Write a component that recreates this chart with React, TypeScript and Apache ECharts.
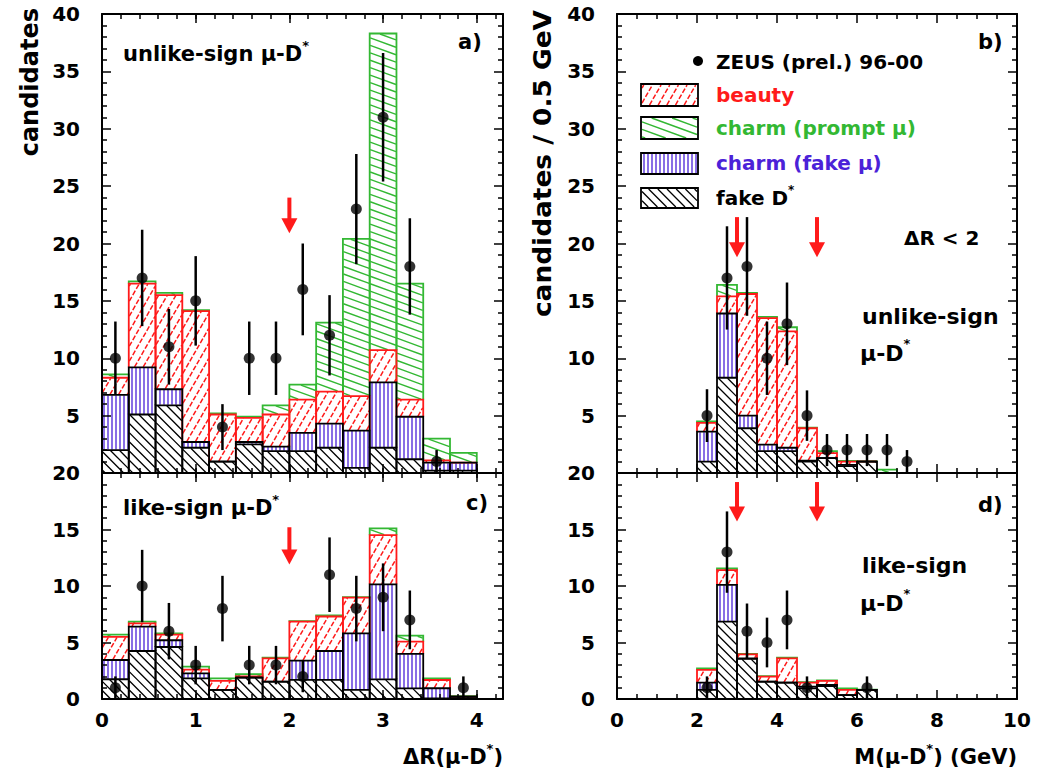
import React, { useEffect, useRef } from 'react';
import * as echarts from 'echarts';

const FONT = '"DejaVu Sans", sans-serif';
const RED = '#ff1a1a';
const GREEN = '#33b833';
const BLUE = '#4b22d8';
const BLACK = '#000000';

// ---------- binning ----------
const drEdges = [0, 0.2857, 0.5714, 0.8571, 1.1429, 1.4286, 1.7143, 2.0, 2.2857, 2.5714, 2.8571, 3.1429, 3.4286, 3.7143, 4.0];
const mEdges = [2.0, 2.5, 3.0, 3.5, 4.0, 4.5, 5.0, 5.5, 6.0, 6.5, 7.0];

// ---------- panel a: unlike-sign, ΔR ----------
const aFakeD = [2.0, 5.1, 5.9, 2.2, 1.0, 2.5, 1.9, 1.9, 2.2, 0.45, 2.2, 1.2, 0.2, 0.2];
const aFakeMu = [4.8, 4.1, 1.4, 0.5, 0.0, 0.2, 0.4, 1.6, 2.1, 3.25, 5.7, 3.7, 0.7, 0.7];
const aBeauty = [1.5, 7.3, 8.2, 11.4, 4.1, 2.1, 2.8, 2.9, 2.8, 3.0, 2.8, 1.5, 0.2, 0.0];
const aPrompt = [0.3, 0.2, 0.2, 0.1, 0.1, 0.1, 0.8, 1.3, 6.0, 13.7, 27.6, 10.1, 1.9, 0.85];
const aDataX = [0.1429, 0.4286, 0.7143, 1.0, 1.2857, 1.5714, 1.8571, 2.1429, 2.4286, 2.7143, 3.0, 3.2857, 3.5714];
const aDataY = [10, 17, 11, 15, 4, 10, 10, 16, 12, 23, 31, 18, 1];
const aDataErr = [3.2, 4.2, 3.3, 3.9, 2.0, 3.2, 3.2, 4.0, 3.5, 4.8, 5.6, 4.2, 1.0];

// ---------- panel c: like-sign, ΔR ----------
const cFakeD = [1.75, 4.25, 4.6, 1.83, 0.8, 1.9, 1.53, 1.7, 1.7, 0.8, 1.74, 0.94, 0.05, 0.2];
const cFakeMu = [1.7, 2.15, 0.6, 0.44, 0.0, 0.0, 0.0, 1.7, 2.55, 5.0, 8.41, 3.06, 0.9, 0.0];
const cBeauty = [2.05, 0.3, 0.5, 0.33, 0.8, 0.1, 2.07, 3.45, 3.05, 3.17, 4.35, 1.07, 0.73, 0.0];
const cPrompt = [0.2, 0.15, 0.1, 0.26, 0.23, 0.2, 0.05, 0.05, 0.1, 0.05, 0.6, 0.53, 0.15, 0.05];
const cDataX = [0.1429, 0.4286, 0.7143, 1.0, 1.2857, 1.5714, 1.8571, 2.1429, 2.4286, 2.7143, 3.0, 3.2857, 3.8571];
const cDataY = [1, 10, 6, 3, 8, 3, 3, 2, 11, 8, 9, 7, 1];
const cDataErr = [1.0, 3.2, 2.5, 1.7, 2.9, 1.7, 1.7, 1.4, 3.3, 2.9, 3.0, 2.6, 1.0];

// ---------- panel b: unlike-sign, M ----------
const bFakeD = [1.0, 8.3, 3.9, 1.9, 1.9, 1.0, 1.3, 0.6, 1.0, 0.0];
const bFakeMu = [2.6, 5.6, 1.1, 0.57, 0.3, 0.08, 0.0, 0.1, 0.0, 0.0];
const bBeauty = [0.76, 1.5, 10.6, 11.03, 10.15, 2.82, 0.44, 0.3, 0.0, 0.0];
const bPrompt = [0.14, 1.0, 0.1, 0.1, 0.35, 0.05, 0.16, 0.05, 0.02, 0.3];
const bDataX = [2.25, 2.75, 3.25, 3.75, 4.25, 4.75, 5.25, 5.75, 6.25, 6.75, 7.25];
const bDataY = [5, 17, 18, 10, 13, 5, 2, 2, 2, 2, 1];
const bDataErr = [2.3, 4.5, 4.3, 3.2, 3.6, 2.2, 1.4, 1.4, 1.4, 1.4, 1.0];

// ---------- panel d: like-sign, M ----------
const dFakeD = [0.8, 6.85, 3.55, 1.53, 1.45, 0.94, 1.15, 0.35, 0.8, 0.0];
const dFakeMu = [0.65, 3.25, 0.05, 0.0, 0.0, 0.16, 0.09, 0.0, 0.0, 0.0];
const dBeauty = [1.12, 1.3, 0.35, 0.45, 2.15, 0.35, 0.36, 0.45, 0.0, 0.0];
const dPrompt = [0.13, 0.15, 0.05, 0.05, 0.05, 0.05, 0.05, 0.14, 0.02, 0.0];
const dDataX = [2.25, 2.75, 3.25, 3.75, 4.25, 4.75, 6.25];
const dDataY = [1, 13, 6, 5, 7, 1, 1];
const dDataErr = [1.0, 3.6, 2.45, 2.2, 2.6, 1.0, 1.0];

// ---------- cut arrows [x, top, tip] ----------
const aArrows = [[2.0, 24.0, 20.9]];
const cArrows = [[2.0, 15.2, 11.9]];
const bArrows = [[3.0, 22.3, 18.8], [5.0, 22.3, 18.8]];
const dArrows = [[3.0, 19.2, 15.7], [5.0, 19.2, 15.7]];

// ---------- hatch shape ----------
echarts.graphic.registerShape(
  'hatch',
  (echarts.graphic as any).extendShape({
    shape: { segs: [] as number[][] },
    buildPath(ctx: any, shape: any) {
      const segs = shape.segs || [];
      for (let i = 0; i < segs.length; i++) {
        const s = segs[i];
        ctx.moveTo(s[0], s[1]);
        ctx.lineTo(s[2], s[3]);
      }
    },
  })
);

function hatchSegs(x0: number, y0: number, x1: number, y1: number, ang: number, sp: number) {
  const a = (ang * Math.PI) / 180;
  const dx = Math.cos(a), dy = Math.sin(a);
  const nx = -dy, ny = dx;
  const cs = [x0 * nx + y0 * ny, x1 * nx + y0 * ny, x0 * nx + y1 * ny, x1 * nx + y1 * ny];
  const cmin = Math.min(...cs), cmax = Math.max(...cs);
  const segs: number[][] = [];
  for (let k = Math.ceil(cmin / sp); k * sp <= cmax; k++) {
    const c = k * sp;
    const px = c * nx, py = c * ny;
    let t0 = -Infinity, t1 = Infinity;
    if (Math.abs(dx) < 1e-9) {
      if (px < x0 || px > x1) continue;
    } else {
      let ta = (x0 - px) / dx, tb = (x1 - px) / dx;
      if (ta > tb) { const tmp = ta; ta = tb; tb = tmp; }
      t0 = Math.max(t0, ta); t1 = Math.min(t1, tb);
    }
    if (Math.abs(dy) < 1e-9) {
      if (py < y0 || py > y1) continue;
    } else {
      let ta = (y0 - py) / dy, tb = (y1 - py) / dy;
      if (ta > tb) { const tmp = ta; ta = tb; tb = tmp; }
      t0 = Math.max(t0, ta); t1 = Math.min(t1, tb);
    }
    if (t1 - t0 > 0.8) segs.push([px + dx * t0, py + dy * t0, px + dx * t1, py + dy * t1]);
  }
  return segs;
}

type HatchStyle = { ang: number; sp: number; color: string; dash: number[] | null; outline: string; lw: number };
const H_PROMPT: HatchStyle = { ang: 20, sp: 7, color: GREEN, dash: null, outline: GREEN, lw: 1.4 };
const H_BEAUTY: HatchStyle = { ang: -60, sp: 7.5, color: RED, dash: [5, 2], outline: RED, lw: 1.5 };
const H_FAKEMU: HatchStyle = { ang: 90, sp: 4, color: BLUE, dash: null, outline: BLACK, lw: 1.3 };
const H_FAKED: HatchStyle = { ang: 45, sp: 6.5, color: BLACK, dash: null, outline: BLACK, lw: 1.3 };

function hatchEl(L: number, T: number, R: number, B: number, h: HatchStyle) {
  const style: any = { stroke: h.color, lineWidth: h.lw, fill: 'none' };
  if (h.dash) style.lineDash = h.dash;
  return { type: 'hatch', shape: { segs: hatchSegs(L, T, R, B, h.ang, h.sp) }, style, silent: true };
}

function layerSeries(name: string, axis: number, edges: number[], base: number[], vals: number[], h: HatchStyle) {
  const data = vals.map((v, i) => [edges[i], edges[i + 1], base[i], base[i] + v]);
  return {
    type: 'custom',
    name,
    xAxisIndex: axis,
    yAxisIndex: axis,
    z: 2,
    data,
    renderItem: (params: any, api: any) => {
      const x0 = api.value(0), x1 = api.value(1), b = api.value(2), t = api.value(3);
      const p0 = api.coord([x0, t]);
      const p1 = api.coord([x1, b]);
      const L = p0[0], T = p0[1], R = p1[0], B = p1[1];
      const children: any[] = [];
      if (B - T > 1.5) children.push(hatchEl(L + 0.5, T + 0.5, R - 0.5, B - 0.5, h));
      children.push({
        type: 'polyline',
        shape: { points: [[L, B], [L, T], [R, T], [R, B]] },
        style: { stroke: h.outline, lineWidth: 1.8, fill: 'none' },
      });
      return { type: 'group', children };
    },
  };
}

function stackSeries(axis: number, edges: number[], fd: number[], fm: number[], be: number[], pr: number[]) {
  const zero = fd.map(() => 0);
  const b1 = fd.map((v) => v);
  const b2 = fd.map((v, i) => v + fm[i]);
  const b3 = fd.map((v, i) => v + fm[i] + be[i]);
  return [
    layerSeries('charm (prompt μ)', axis, edges, b3, pr, H_PROMPT),
    layerSeries('beauty', axis, edges, b2, be, H_BEAUTY),
    layerSeries('charm (fake μ)', axis, edges, b1, fm, H_FAKEMU),
    layerSeries('fake D*', axis, edges, zero, fd, H_FAKED),
  ];
}

function dataSeries(axis: number, xs: number[], ys: number[], errs: number[]) {
  const pts = xs.map((x, i) => [x, ys[i], errs[i]]);
  return [
    {
      type: 'custom',
      name: 'ZEUS err',
      xAxisIndex: axis,
      yAxisIndex: axis,
      z: 3,
      data: pts,
      renderItem: (params: any, api: any) => {
        const x = api.value(0), y = api.value(1), e = api.value(2);
        const lo = api.coord([x, Math.max(0, y - e)]);
        const hi = api.coord([x, y + e]);
        return {
          type: 'line',
          shape: { x1: lo[0], y1: lo[1], x2: hi[0], y2: hi[1] },
          style: { stroke: BLACK, lineWidth: 2.5 },
        };
      },
    },
    {
      type: 'scatter',
      name: 'ZEUS (prel.) 96-00',
      xAxisIndex: axis,
      yAxisIndex: axis,
      z: 4,
      symbol: 'circle',
      symbolSize: 11,
      itemStyle: { color: BLACK },
      data: pts.map((p) => [p[0], p[1]]),
    },
  ];
}

function arrowSeries(axis: number, arrows: number[][]) {
  return {
    type: 'custom',
    name: 'cut',
    xAxisIndex: axis,
    yAxisIndex: axis,
    z: 5,
    data: arrows,
    renderItem: (params: any, api: any) => {
      const x = api.value(0), t = api.value(1), tip = api.value(2);
      const p0 = api.coord([x, t]);
      const p1 = api.coord([x, tip]);
      const hh = 15, hw = 8;
      return {
        type: 'group',
        children: [
          { type: 'line', shape: { x1: p0[0], y1: p0[1], x2: p1[0], y2: p1[1] - hh + 2 }, style: { stroke: RED, lineWidth: 4 } },
          { type: 'polygon', shape: { points: [[p1[0] - hw, p1[1] - hh], [p1[0] + hw, p1[1] - hh], [p1[0], p1[1]]] }, style: { fill: RED } },
        ],
      };
    },
  };
}

// ---------- text helpers ----------
let measCtx: CanvasRenderingContext2D | null = null;
function tw(s: string, size: number) {
  if (!measCtx) measCtx = document.createElement('canvas').getContext('2d');
  if (!measCtx) return s.length * size * 0.6;
  measCtx.font = `bold ${size}px "DejaVu Sans"`;
  return measCtx.measureText(s).width;
}

function textEl(t: string, x: number, y: number, size: number, color: string, align = 'left', extra: any = {}) {
  return {
    type: 'text',
    x,
    y,
    ...extra,
    style: {
      text: t,
      fill: color,
      font: `bold ${size}px ${FONT}`,
      textAlign: align,
      textVerticalAlign: 'middle',
      align,
      verticalAlign: 'middle',
    },
  };
}

function supLabel(parts: [string, boolean][], x: number, y: number, size: number, color: string, align: 'left' | 'right' = 'left') {
  const supSize = Math.round(size * 0.6);
  const widths = parts.map(([t, sup]) => tw(t, sup ? supSize : size));
  const total = widths.reduce((a, b) => a + b, 0);
  let cx = align === 'left' ? x : x - total;
  const out: any[] = [];
  parts.forEach(([t, sup], i) => {
    out.push(textEl(t, cx, sup ? y - size * 0.42 : y, sup ? supSize : size, color, 'left'));
    cx += widths[i];
  });
  return out;
}

function legendBox(x0: number, y0: number, x1: number, y1: number, h: HatchStyle) {
  return [
    hatchEl(x0 + 1, y0 + 1, x1 - 1, y1 - 1, h),
    { type: 'rect', shape: { x: x0, y: y0, width: x1 - x0, height: y1 - y0 }, style: { fill: 'none', stroke: BLACK, lineWidth: 1.8 } },
  ];
}

// ---------- axes ----------
const labelStyle = { color: BLACK, fontFamily: FONT, fontWeight: 'bold', fontSize: 20 };

function xAx(gi: number, pos: string, min: number, max: number, interval: number, opts: any) {
  return {
    type: 'value',
    gridIndex: gi,
    position: pos,
    min,
    max,
    interval,
    z: 6,
    axisLine: { show: opts.line !== false, onZero: false, lineStyle: { color: BLACK, width: 2 } },
    axisTick: { show: true, inside: true, length: opts.tickLen || 9, lineStyle: { color: BLACK, width: 1.5 } },
    minorTick: { show: !!opts.minor, splitNumber: opts.minor || 5, length: 5, lineStyle: { color: BLACK, width: 1.5 } },
    splitLine: { show: false },
    minorSplitLine: { show: false },
    axisLabel: {
      show: !!opts.label,
      margin: 11,
      ...labelStyle,
      formatter: (v: number) => (Math.abs(v - Math.round(v)) < 1e-6 ? String(Math.round(v)) : ''),
    },
  };
}

function yAx(gi: number, pos: string, max: number, opts: any) {
  return {
    type: 'value',
    gridIndex: gi,
    position: pos,
    min: 0,
    max,
    interval: 5,
    z: 6,
    axisLine: { show: true, onZero: false, lineStyle: { color: BLACK, width: 2 } },
    axisTick: { show: true, inside: true, length: 9, lineStyle: { color: BLACK, width: 1.5 } },
    minorTick: { show: true, splitNumber: 5, length: 5, lineStyle: { color: BLACK, width: 1.5 } },
    splitLine: { show: false },
    minorSplitLine: { show: false },
    axisLabel: { show: !!opts.label, margin: 22, showMinLabel: opts.showMin !== false, showMaxLabel: true, ...labelStyle },
  };
}

export default function App() {
  const ref = useRef<HTMLDivElement>(null);

  useEffect(() => {
    if (!ref.current) return;
    const chart = echarts.init(ref.current, undefined, { renderer: 'svg' });

    const grid = [
      { left: 102, top: 14, width: 401, height: 459 }, // a
      { left: 102, top: 473, width: 401, height: 226 }, // c
      { left: 617, top: 14, width: 400, height: 459 }, // b
      { left: 617, top: 473, width: 400, height: 226 }, // d
    ];

    const xAxis = [
      xAx(0, 'bottom', 0, 4.28, 1, { label: false }), // 0 a
      xAx(0, 'top', 0, 4.28, 1, { label: false }), // 1
      xAx(1, 'bottom', 0, 4.28, 1, { label: true }), // 2 c
      xAx(1, 'top', 0, 4.28, 1, { label: false }), // 3
      xAx(2, 'bottom', 0, 10, 2, { label: false, minor: 4 }), // 4 b
      xAx(2, 'top', 0, 10, 2, { label: false, minor: 4 }), // 5
      xAx(3, 'bottom', 0, 10, 2, { label: true, minor: 4 }), // 6 d
      xAx(3, 'top', 0, 10, 2, { label: false, minor: 4 }), // 7
      xAx(0, 'bottom', 0, 4.28, 0.2, { label: false, line: false, tickLen: 5 }), // minor ticks
      xAx(0, 'top', 0, 4.28, 0.2, { label: false, line: false, tickLen: 5 }),
      xAx(1, 'bottom', 0, 4.28, 0.2, { label: false, line: false, tickLen: 5 }),
      xAx(1, 'top', 0, 4.28, 0.2, { label: false, line: false, tickLen: 5 }),
    ];

    const yAxis = [
      yAx(0, 'left', 40, { label: true, showMin: false }),
      yAx(0, 'right', 40, { label: false }),
      yAx(1, 'left', 20, { label: true }),
      yAx(1, 'right', 20, { label: false }),
      yAx(2, 'left', 40, { label: true, showMin: false }),
      yAx(2, 'right', 40, { label: false }),
      yAx(3, 'left', 20, { label: true }),
      yAx(3, 'right', 20, { label: false }),
    ];

    const series: any[] = [
      ...stackSeries(0, drEdges, aFakeD, aFakeMu, aBeauty, aPrompt),
      ...stackSeries(2, drEdges, cFakeD, cFakeMu, cBeauty, cPrompt),
      ...stackSeries(4, mEdges, bFakeD, bFakeMu, bBeauty, bPrompt),
      ...stackSeries(6, mEdges, dFakeD, dFakeMu, dBeauty, dPrompt),
      ...dataSeries(0, aDataX, aDataY, aDataErr),
      ...dataSeries(2, cDataX, cDataY, cDataErr),
      ...dataSeries(4, bDataX, bDataY, bDataErr),
      ...dataSeries(6, dDataX, dDataY, dDataErr),
      arrowSeries(0, aArrows),
      arrowSeries(2, cArrows),
      arrowSeries(4, bArrows),
      arrowSeries(6, dArrows),
    ];

    const S = 21;
    const graphicEls: any[] = [
      // y titles
      textEl('candidates', 30, 8, 24, BLACK, 'right', { rotation: Math.PI / 2 }),
      textEl('candidates / 0.5 GeV', 543, 10, 24, BLACK, 'right', { rotation: Math.PI / 2, scaleX: 1.1 }),
      // x titles
      ...supLabel([['ΔR(μ-D', false], ['*', true], [')', false]], 503, 757, S, BLACK, 'right'),
      ...supLabel([['M(μ-D', false], ['*', true], [') (GeV)', false]], 1017, 757, S, BLACK, 'right'),
      // panel a
      ...supLabel([['unlike-sign μ-D', false], ['*', true]], 123, 54, S, BLACK),
      textEl('a)', 458, 42, S, BLACK),
      // panel c
      ...supLabel([['like-sign μ-D', false], ['*', true]], 123, 508, S, BLACK),
      textEl('c)', 466, 503, S, BLACK),
      // panel b
      textEl('b)', 978, 42, S, BLACK),
      { type: 'circle', shape: { cx: 698, cy: 61, r: 5 }, style: { fill: BLACK } },
      textEl('ZEUS (prel.) 96-00', 716, 62, 20, BLACK),
      ...legendBox(641, 84, 698, 106, H_BEAUTY),
      textEl('beauty', 716, 95, 20, RED),
      ...legendBox(641, 117, 698, 139, H_PROMPT),
      textEl('charm (prompt μ)', 716, 128, 20, GREEN),
      ...legendBox(641, 153, 698, 174, H_FAKEMU),
      textEl('charm (fake μ)', 716, 163, 20, BLUE),
      ...legendBox(641, 188, 698, 208, H_FAKED),
      ...supLabel([['fake D', false], ['*', true]], 716, 198, 20, BLACK),
      textEl('ΔR < 2', 904, 238, 20, BLACK),
      textEl('unlike-sign', 862, 316, 22, BLACK),
      ...supLabel([['μ-D', false], ['*', true]], 860, 353, 22, BLACK),
      // panel d
      textEl('d)', 978, 505, S, BLACK),
      textEl('like-sign', 862, 565, 22, BLACK),
      ...supLabel([['μ-D', false], ['*', true]], 860, 603, 22, BLACK),
    ];

    chart.setOption({
      animation: false,
      backgroundColor: '#ffffff',
      grid,
      xAxis,
      yAxis,
      series,
      graphic: { elements: graphicEls },
    });

    return () => chart.dispose();
  }, []);

  return <div ref={ref} style={{ position: 'fixed', left: 0, top: 0, width: 1048, height: 779, background: '#fff' }} />;
}
